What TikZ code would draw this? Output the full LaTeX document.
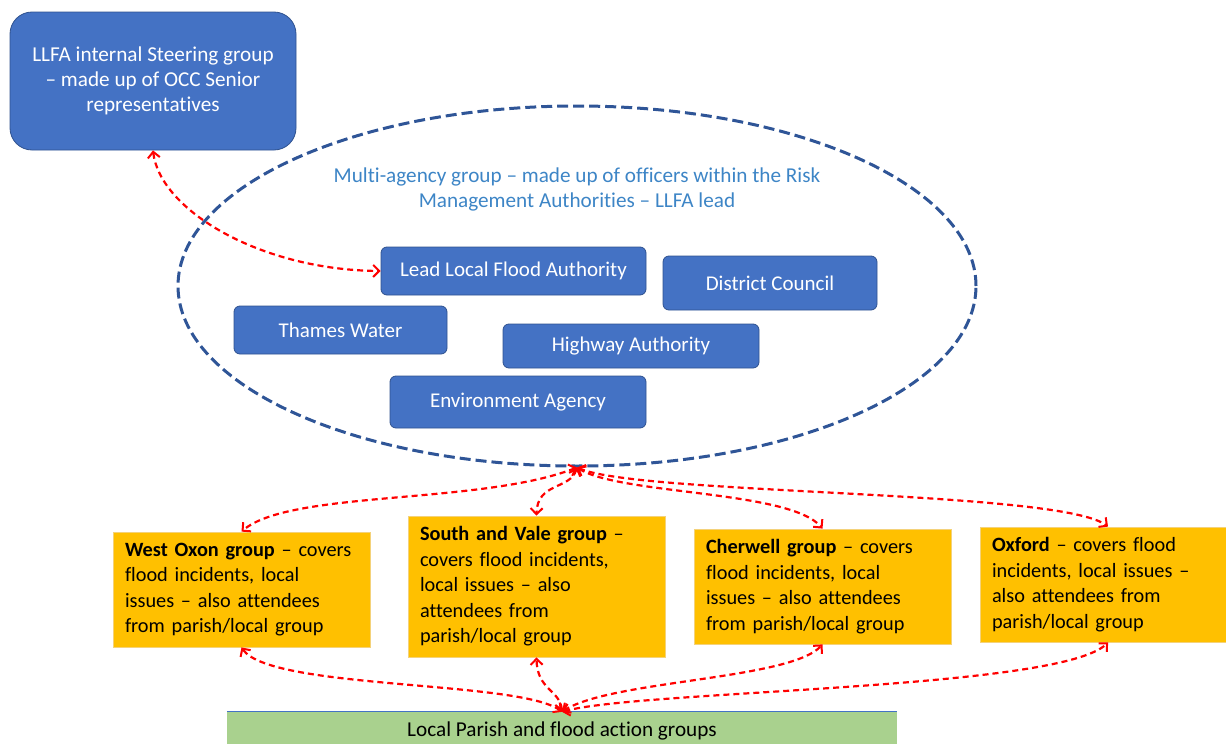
\documentclass[tikz,border=0pt]{standalone}
\usepackage{fontspec}
\setmainfont{Carlito}[Ligatures={NoCommon}]
\usetikzlibrary{arrows.meta,shapes.geometric}
\definecolor{bluefill}{HTML}{4472C4}
\definecolor{blueedge}{HTML}{2F528F}
\definecolor{ellcol}{HTML}{2F5597}
\definecolor{magtext}{HTML}{3D85C6}
\definecolor{yfill}{HTML}{FFC000}
\definecolor{yedge}{HTML}{F4D27A}
\definecolor{gfill}{HTML}{A9D18E}
\definecolor{redline}{HTML}{FF0000}
\tikzset{
  bluebox/.style={draw=blueedge, line width=0.8pt, fill=bluefill, rounded corners=6pt,
    text=white, font=\fontsize{21}{25}\selectfont, inner sep=0pt},
  ybox/.style={draw=yedge, line width=0.8pt, fill=yfill, text=black, align=left,
    font=\fontsize{20.3}{25.5}\selectfont, inner xsep=12pt, inner ysep=0pt,
    text width=233pt, minimum width=257pt},
  redarr/.style={draw=redline, line width=2.2pt, dash pattern=on 6pt off 4pt,
    {Straight Barb[length=6pt,width=12pt,line width=2pt]}-{Straight Barb[length=6pt,width=12pt,line width=2pt]}},
}
\begin{document}
\begin{tikzpicture}[x=1pt,y=-1pt]
\useasboundingbox (0,0) rectangle (1226,744);
\clip (0,0) rectangle (1226,744);

% top steering group box
\node[draw=blueedge, line width=0.8pt, fill=bluefill, rounded corners=22pt, text=white,
  align=center, font=\fontsize{21.2}{25}\selectfont, minimum width=286pt, minimum height=138pt,
  inner sep=0pt] (top) at (153,81)
  {LLFA internal Steering group\\ -- made up of OCC Senior\\ representatives};

% multi-agency ellipse
\node[ellipse, draw=ellcol, line width=3pt, dash pattern=on 11pt off 5pt,
  minimum width=798pt, minimum height=360pt, inner sep=0pt] (mag) at (577,286) {};
\node[text=magtext, align=center, font=\fontsize{21.2}{25}\selectfont] (magt) at (577,189.5)
  {Multi-agency group -- made up of officers within the Risk\\ Management Authorities -- LLFA lead};

% agency boxes
\node[bluebox, minimum width=265pt, minimum height=48pt] (llfa) at (513.5,271) {Lead Local Flood Authority};
\node[bluebox, minimum width=214pt, minimum height=54pt] (dc) at (770,283) {District Council};
\node[bluebox, minimum width=213pt, minimum height=48pt] (tw) at (340.5,330) {Thames Water};
\node[bluebox, minimum width=256pt, minimum height=44pt] (ha) at (631,346) {Highway Authority};
\node[bluebox, minimum width=256pt, minimum height=52pt] (ea) at (518,402) {Environment Agency};

% area groups
\node[ybox, minimum height=115pt] (wo) at (241.5,589.5)
  {\textbf{West Oxon group} -- covers\\ flood incidents, local\\ issues -- also attendees\\ from parish/local group};
\node[ybox, minimum height=141pt] (sv) at (536.5,586.5)
  {\textbf{South and Vale group} --\\ covers flood incidents,\\ local issues -- also\\ attendees from\\ parish/local group};
\node[ybox, minimum height=115pt] (ch) at (822.5,586.5)
  {\textbf{Cherwell group} -- covers\\ flood incidents, local\\ issues -- also attendees\\ from parish/local group};
\node[ybox, minimum height=115pt, text width=222pt, minimum width=246pt] (ox) at (1103,584.5)
  {\textbf{Oxford} -- covers flood\\ incidents, local issues --\\ also attendees from\\ parish/local group};

% local parish box
\node[fill=gfill, minimum width=670pt, minimum height=38pt, inner sep=0pt,
  font=\fontsize{21.2}{25}\selectfont] (gr) at (562,731) {Local Parish and flood action groups};
\draw[bluefill, line width=1pt] (gr.north west) -- (gr.north east);

% connectors
\draw[redarr] (top.south) .. controls (160,210) and (260,270) .. (llfa.west);
\draw[redarr] (mag.south) .. controls (480,505) and (290,490) .. (wo.north);
\draw[redarr] (mag.south) .. controls (570,490) and (537,482) .. (sv.north);
\draw[redarr] (mag.south) .. controls (620,495) and (790,490) .. (ch.north);
\draw[redarr] (mag.south) .. controls (640,495) and (1060,490) .. ([xshift=5pt]ox.north);
\draw[redarr] (gr.north) .. controls (520,680) and (270,690) .. (wo.south);
\draw[redarr] (gr.north) .. controls (560,690) and (537,690) .. (sv.south);
\draw[redarr] (gr.north) .. controls (610,680) and (790,680) .. (ch.south);
\draw[redarr] (gr.north) .. controls (640,690) and (1060,690) .. ([xshift=5pt]ox.south);
\end{tikzpicture}
\end{document}
